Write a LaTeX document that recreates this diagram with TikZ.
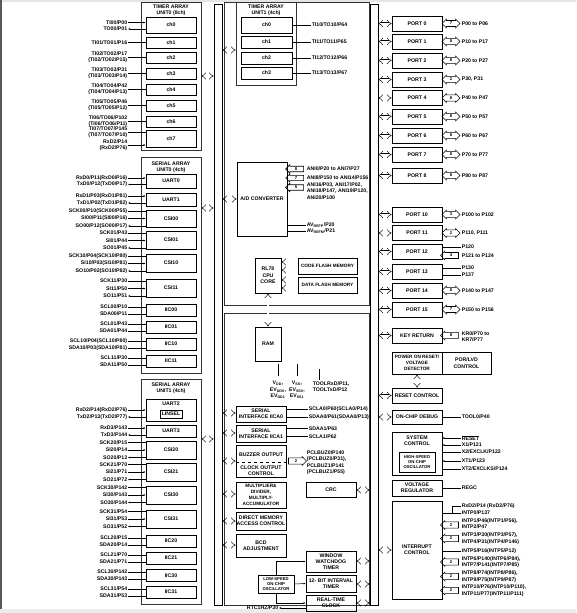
\documentclass[tikz,border=0pt]{standalone}
\usepackage{fontspec}
\setmainfont{Liberation Sans}
\usetikzlibrary{arrows.meta, shapes.arrows, calc}

\newcommand{\ptxt}{\fontsize{5.2}{6.3}\selectfont\bfseries}
\newcommand{\ptxtm}{\fontsize{4.7}{5.8}\selectfont\bfseries}
\newcommand{\ptxts}{\fontsize{4.2}{5.2}\selectfont\bfseries}

\tikzset{
  blk/.style={draw, line width=0.6pt, inner sep=0pt, minimum width=50pt},
  grp/.style={draw=black!80, line width=0.6pt, inner sep=0pt},
  busbar/.style={draw, line width=0.6pt, minimum width=8pt, inner sep=0pt},
  busarr/.style={double, double distance=2pt, line width=0.45pt, {Implies}-{Implies}},
  holarr/.style={double, double distance=2pt, line width=0.45pt, -{Implies}},
  lblr/.style={inner sep=0.6pt, align=right, anchor=east},
  lbll/.style={inner sep=0.6pt, align=left, anchor=west},
  wire/.style={line width=0.5pt},
  nbi/.style={double arrow, draw, line width=0.55pt, minimum height=18pt, minimum width=8.5pt,
    double arrow head extend=1.4pt, inner xsep=0.3pt, inner ysep=1.3pt, font=\ptxts},
  nin/.style={single arrow, shape border rotate=180, draw, line width=0.55pt, minimum height=18pt,
    minimum width=8.5pt, single arrow head extend=1.4pt, inner xsep=0.3pt, inner ysep=1.3pt, font=\ptxts},
  nout/.style={nin, shape border rotate=0}
}

% bus arrow between a bus and a block at height #4
\newcommand{\busto}[4]{\coordinate (#1) at (0,#4); \draw[busarr] (#2 |- #1) -- (#3 |- #1);}
% pin on the left of a block
\newcommand{\pinl}[5][]{\node[lblr] (#2) at (128,#3) {#4}; \draw[wire,#1] (#2.east) -- (#5.west |- #2.east);}
% pin on the right of a block
\newcommand{\pinr}[6][]{\node[lbll] (#2) at (#6,#3) {#4}; \draw[wire,#1] (#5.east |- #2.west) -- (#2.west);}
% port block with its pins
\newcommand{\port}[5]{\node[blk, minimum height=15pt] (#1) at (417,#2) {#3};
  \node[nbi] (#1a) at (451,#2) {#4}; \node[lbll] (#1p) at (461,#2) {#5};
  \busto{#1b}{bus2.east}{#1.west}{#2}}

\begin{document}
\begin{tikzpicture}[x=1pt, y=-1pt, >={Latex[length=2pt,width=1.8pt]},
  every node/.style={font=\ptxt, align=center}]
  \useasboundingbox (0,0) rectangle (576,613);

  % page edges
  \fill[black!65] (0,0) rectangle (2,609);
  \fill[black!10] (2,0) rectangle (576,1.5);
  \fill[black!8] (0,609) rectangle (576,613);

  % internal buses
  \node[busbar, minimum height=601pt] (bus1) at (218,304.5) {};
  \node[busbar, minimum height=601pt] (bus2) at (374,304.5) {};

  % ---------------- timer array unit 0
  \node[grp, minimum width=60pt, minimum height=148pt] (tau0) at (171,76) {};
  \node (tau0t) at (171,10.5) {TIMER ARRAY\\UNIT0 (8ch)};
  \node[blk, minimum height=16pt] (t0c0) at (171,25) {ch0};
  \node[blk, minimum height=11pt] (t0c1) at (171,42.5) {ch1};
  \node[blk, minimum height=11pt] (t0c2) at (171,57.5) {ch2};
  \node[blk, minimum height=11pt] (t0c3) at (171,73.5) {ch3};
  \node[blk, minimum height=11pt] (t0c4) at (171,89.5) {ch4};
  \node[blk, minimum height=11pt] (t0c5) at (171,105.5) {ch5};
  \node[blk, minimum height=11pt] (t0c6) at (171,121.5) {ch6};
  \node[blk, minimum height=17pt] (t0c7) at (171,138.5) {ch7};
  \pinl[->]{ti00}{22.5}{TI00/P00}{t0c0}
  \pinl[<-]{to00}{29}{TO00/P01}{t0c0}
  \pinl{ti01}{42.5}{TI01/TO01/P16}{t0c1}
  \pinl{ti02}{57.5}{TI02/TO02/P17\\(TI02/TO02/P15)}{t0c2}
  \pinl{ti03}{73.5}{TI03/TO03/P31\\(TI03/TO03/P14)}{t0c3}
  \pinl{ti04}{89.5}{TI04/TO04/P42\\(TI04/TO04/P13)}{t0c4}
  \pinl{ti05}{105.5}{TI05/TO05/P46\\(TI05/TO05/P12)}{t0c5}
  \pinl{ti06}{121}{TI06/TO06/P102\\(TI06/TO06/P11)}{t0c6}
  \pinl{ti07}{132.5}{TI07/TO07/P145\\(TI07/TO07/P10)}{t0c7}
  \pinl[->]{rxd2t}{145}{RxD2/P14\\(RxD2/P76)}{t0c7}
  \busto{a1}{tau0.east}{bus1.west}{76}

  % ---------------- serial array unit 0
  \node[grp, minimum width=60pt, minimum height=216pt] (sau0) at (171,265) {};
  \node (sau0t) at (171,167) {SERIAL ARRAY\\UNIT0 (4ch)};
  \node[blk, minimum height=14pt] (uart0) at (171,181) {UART0};
  \node[blk, minimum height=13pt] (uart1) at (171,199.5) {UART1};
  \node[blk, minimum height=17pt] (csi00) at (171,218.5) {CSI00};
  \node[blk, minimum height=18pt] (csi01) at (171,240) {CSI01};
  \node[blk, minimum height=18pt] (csi10) at (171,263) {CSI10};
  \node[blk, minimum height=18pt] (csi11) at (171,288) {CSI11};
  \node[blk, minimum height=12pt] (iic00) at (171,310) {IIC00};
  \node[blk, minimum height=12pt] (iic01) at (171,327) {IIC01};
  \node[blk, minimum height=12pt] (iic10) at (171,344) {IIC10};
  \node[blk, minimum height=12pt] (iic11) at (171,361) {IIC11};
  \pinl[->]{rxd0}{178}{RxD0/P11(RxD0/P16)}{uart0}
  \pinl[<-]{txd0}{184.5}{TxD0/P12(TxD0/P17)}{uart0}
  \pinl[->]{rxd1}{196}{RxD1/P03(RxD1/P81)}{uart1}
  \pinl[<-]{txd1}{203}{TxD1/P02(TxD1/P82)}{uart1}
  \pinl{sck00}{211}{SCK00/P10(SCK00/P55)}{csi00}
  \pinl[->]{si00}{218.5}{SI00/P11(SI00/P16)}{csi00}
  \pinl[<-]{so00}{226}{SO00/P12(SO00/P17)}{csi00}
  \pinl{sck01}{233}{SCK01/P43}{csi01}
  \pinl[->]{si01}{240.5}{SI01/P44}{csi01}
  \pinl[<-]{so01}{248}{SO01/P45}{csi01}
  \pinl{sck10}{256}{SCK10/P04(SCK10/P80)}{csi10}
  \pinl[->]{si10}{263.5}{SI10/P03(SI10/P81)}{csi10}
  \pinl[<-]{so10}{271}{SO10/P02(SO10/P82)}{csi10}
  \pinl{sck11}{281}{SCK11/P30}{csi11}
  \pinl[->]{si11}{288.5}{SI11/P50}{csi11}
  \pinl[<-]{so11}{296}{SO11/P51}{csi11}
  \pinl{scl00}{307}{SCL00/P10}{iic00}
  \pinl{sda00}{314}{SDA00/P11}{iic00}
  \pinl{scl01}{324}{SCL01/P43}{iic01}
  \pinl{sda01}{331}{SDA01/P44}{iic01}
  \pinl{scl10}{341}{SCL10/P04(SCL10/P80)}{iic10}
  \pinl{sda10}{348}{SDA10/P03(SDA10/P81)}{iic10}
  \pinl{scl11}{358}{SCL11/P30}{iic11}
  \pinl{sda11}{365}{SDA11/P50}{iic11}
  \busto{a2}{sau0.east}{bus1.west}{208}

  % ---------------- serial array unit 1
  \node[grp, minimum width=60pt, minimum height=225pt] (sau1) at (171,491.5) {};
  \node (sau1t) at (171,388) {SERIAL ARRAY\\UNIT1 (4ch)};
  \node[blk, minimum height=22pt] (uart2) at (171,410) {};
  \node (uart2t) at (171,404) {UART2};
  \node[blk, line width=0.8pt, minimum width=22pt, minimum height=8pt] (linsel) at (171,414) {LINSEL};
  \node[blk, minimum height=12pt] (uart3) at (171,431) {UART3};
  \node[blk, minimum height=18pt] (csi20) at (171,450) {CSI20};
  \node[blk, minimum height=18pt] (csi21) at (171,472) {CSI21};
  \node[blk, minimum height=18pt] (csi30) at (171,495) {CSI30};
  \node[blk, minimum height=18pt] (csi31) at (171,519) {CSI31};
  \node[blk, minimum height=12pt] (iic20) at (171,541) {IIC20};
  \node[blk, minimum height=12pt] (iic21) at (171,558) {IIC21};
  \node[blk, minimum height=12pt] (iic30) at (171,575.5) {IIC30};
  \node[blk, minimum height=12pt] (iic31) at (171,592) {IIC31};
  \pinl[->]{rxd2}{410}{RxD2/P14(RxD2/P76)}{uart2}
  \pinl[<-]{txd2}{417}{TxD2/P13(TxD2/P77)}{uart2}
  \pinl[->]{rxd3}{428}{RxD3/P143}{uart3}
  \pinl[<-]{txd3}{435}{TxD3/P144}{uart3}
  \pinl{sck20}{442.5}{SCK20/P15}{csi20}
  \pinl[->]{si20}{450}{SI20/P14}{csi20}
  \pinl[<-]{so20}{457.5}{SO20/P13}{csi20}
  \pinl{sck21}{464.5}{SCK21/P70}{csi21}
  \pinl[->]{si21}{472}{SI21/P71}{csi21}
  \pinl[<-]{so21}{479.5}{SO21/P72}{csi21}
  \pinl{sck30}{487.5}{SCK30/P142}{csi30}
  \pinl[->]{si30}{495}{SI30/P143}{csi30}
  \pinl[<-]{so30}{502.5}{SO30/P144}{csi30}
  \pinl{sck31}{511.5}{SCK31/P54}{csi31}
  \pinl[->]{si31}{519}{SI31/P53}{csi31}
  \pinl[<-]{so31}{526.5}{SO31/P52}{csi31}
  \pinl{scl20}{538}{SCL20/P15}{iic20}
  \pinl{sda20}{545}{SDA20/P14}{iic20}
  \pinl{scl21}{555}{SCL21/P70}{iic21}
  \pinl{sda21}{562}{SDA21/P71}{iic21}
  \pinl{scl30}{572}{SCL30/P142}{iic30}
  \pinl{sda30}{579}{SDA30/P143}{iic30}
  \pinl{scl31}{589}{SCL31/P54}{iic31}
  \pinl{sda31}{596}{SDA31/P53}{iic31}
  \busto{a3}{sau1.east}{bus1.west}{439}

  % ---------------- middle, upper panel
  \node[grp, minimum width=145pt, minimum height=303pt] (mid1) at (296.5,153.5) {};
  \node[grp, minimum width=60pt, minimum height=83pt] (tau1) at (266,43.5) {};
  \node (tau1t) at (266,10.5) {TIMER ARRAY\\UNIT1 (4ch)};
  \node[blk, minimum width=51pt, minimum height=16pt] (t1c0) at (266.5,25) {ch0};
  \node[blk, minimum width=51pt, minimum height=12pt] (t1c1) at (266.5,42) {ch1};
  \node[blk, minimum width=51pt, minimum height=12pt] (t1c2) at (266.5,58) {ch2};
  \node[blk, minimum width=51pt, minimum height=12pt] (t1c3) at (266.5,73) {ch3};
  \pinr{ti10}{25}{TI10/TO10/P64}{t1c0}{311}
  \pinr{ti11}{42}{TI11/TO11/P65}{t1c1}{311}
  \pinr{ti12}{58}{TI12/TO12/P66}{t1c2}{311}
  \pinr{ti13}{73}{TI13/TO13/P67}{t1c3}{311}
  \busto{a4}{bus1.east}{tau1.west}{50}

  % A/D converter
  \node[blk, minimum height=74pt] (adc) at (262,199) {A/D CONVERTER};
  \node[nin, minimum width=7.5pt, inner ysep=1pt] (an0a) at (296,169) {8};
  \node[lbll] (an0) at (306,169) {ANI0/P20 to ANI7/P27};
  \node[nin, minimum width=7.5pt, inner ysep=1pt] (an1a) at (296,178) {7};
  \node[lbll] (an1) at (306,177.5) {ANI8/P150 to ANI14/P156};
  \node[nin, minimum width=7.5pt, inner ysep=1pt] (an2a) at (296,187.5) {5};
  \node[lbll] (an2) at (306,191) {ANI16/P03, ANI17/P02,\\ANI18/P147, ANI19/P120,\\ANI20/P100};
  \pinr{avp}{225}{AV\textsubscript{REFP}/P20}{adc}{306}
  \pinr{avm}{231}{AV\textsubscript{REFM}/P21}{adc}{306}
  \busto{a5}{bus1.east}{adc.west}{199}

  % CPU and flash
  \node[blk, minimum width=26pt, minimum height=35pt] (cpu) at (268,275.5) {RL78\\CPU\\CORE};
  \node[blk, minimum width=59pt, minimum height=16pt, font=\ptxtm] (cfl) at (327.5,266) {CODE FLASH MEMORY};
  \node[blk, minimum width=59pt, minimum height=16pt, font=\ptxtm] (dfl) at (327.5,285) {DATA FLASH MEMORY};
  \coordinate (f1) at (0,262); \coordinate (f2) at (0,270);
  \coordinate (f3) at (0,280); \coordinate (f4) at (0,288);
  \draw[holarr] (cfl.west |- f1) -- (cpu.east |- f1);
  \draw[holarr] (cfl.west |- f2) -- (cpu.east |- f2);
  \draw[holarr] (dfl.west |- f3) -- (cpu.east |- f3);
  \draw[holarr] (dfl.west |- f4) -- (cpu.east |- f4);

  % ---------------- middle, lower panel
  \node[grp, minimum width=145pt, minimum height=292pt] (mid2) at (296.5,459) {};
  \node[blk, minimum width=26pt, minimum height=34pt] (ram) at (268,344) {RAM};
  \draw[busarr] (cpu.south) -- (ram.north);

  % supply and tool pins
  \node (vdd) at (278,390) {V\textsubscript{DD},\\EV\textsubscript{DD0},\\EV\textsubscript{DD1}};
  \node (vss) at (297,390) {V\textsubscript{SS},\\EV\textsubscript{SS0},\\EV\textsubscript{SS1}};
  \node[lbll] (tool) at (312,387) {TOOLRxD/P11,\\TOOLTxD/P12};
  \draw[wire] ([yshift=1.5pt]vdd.north) -- ++(0,-12);
  \draw[wire] ([yshift=1.5pt]vss.north) -- ++(0,-12);
  \draw[wire] ([shift={(7pt,1.5pt)}]tool.north west) -- ++(0,-11);

  % serial interfaces IICA
  \node[blk, minimum height=16pt] (iica0) at (261,414) {SERIAL\\INTERFACE IICA0};
  \node[blk, minimum height=17pt] (iica1) at (261,433.5) {SERIAL\\INTERFACE IICA1};
  \pinr{scla0}{409.5}{SCLA0/P60(SCLA0/P14)}{iica0}{308}
  \pinr{sdaa0}{417.5}{SDAA0/P61(SDAA0/P13)}{iica0}{308}
  \pinr{sdaa1}{428.5}{SDAA1/P63}{iica1}{308}
  \pinr{scla1}{436.5}{SCLA1/P62}{iica1}{308}
  \busto{a6}{bus1.east}{iica0.west}{413}
  \busto{a7}{bus1.east}{iica1.west}{433}

  % buzzer / clock output
  \node[blk, minimum height=32pt] (buz) at (261,461) {};
  \node (buzt) at (261,454.5) {BUZZER OUTPUT};
  \node (clkt) at (261,470.5) {CLOCK OUTPUT\\CONTROL};
  \draw[wire, dashed] ([yshift=-1pt]buz.west) -- ([yshift=-1pt]buz.east);
  \node[nout] (buza) at (296,461) {2};
  \node[lbll] (pclbuz) at (306,462.5) {PCLBUZ0/P140\\(PCLBUZ0/P31),\\PCLBUZ1/P141\\(PCLBUZ1/P55)};
  \busto{a8}{bus1.east}{buz.west}{461}

  % arithmetic, DMA, BCD
  \node[blk, minimum height=26pt, font=\ptxtm] (mda) at (261,495) {MULTIPLIER\&\\DIVIDER,\\MULTIPLY-\\ACCUMULATOR};
  \node[blk, minimum height=18pt] (dma) at (261,521) {DIRECT MEMORY\\ACCESS CONTROL};
  \node[blk, minimum height=23pt] (bcd) at (261,545.5) {BCD\\ADJUSTMENT};
  \busto{a9}{bus1.east}{mda.west}{494}
  \busto{a10}{bus1.east}{dma.west}{521}
  \busto{a11}{bus1.east}{bcd.west}{545}

  % CRC and timers
  \node[blk, minimum height=15pt] (crc) at (331,489.5) {CRC};
  \node[blk, minimum height=21pt] (wdt) at (331,561.5) {WINDOW\\WATCHDOG\\TIMER};
  \node[blk, minimum height=17pt] (itv) at (331,583.5) {12- BIT INTERVAL\\TIMER};
  \node[blk, minimum height=16pt] (rtc) at (331,603) {REAL-TIME\\CLOCK};
  \busto{a12}{crc.east}{bus2.west}{490}
  \busto{a13}{wdt.east}{bus2.west}{561}
  \busto{a14}{itv.east}{bus2.west}{584}
  \busto{a15}{rtc.east}{bus2.west}{603}
  \node[blk, minimum width=36pt, minimum height=18pt, font=\ptxts] (osc) at (276,584) {LOW-SPEED\\ON-CHIP\\OSCILLATOR};
  \draw[wire, ->] (osc.north) |- (wdt.west);
  \draw[wire, ->] (osc.east) -- (itv.west);
  \draw[wire, ->] (osc.south) |- (rtc.west);
  \node[lblr] (rtchz) at (279,608) {RTC1HZ/P30};
  \draw[wire, ->] (rtc.west |- rtchz.east) -- (rtchz.east);

  % ---------------- right column: ports
  \port{port0}{23.5}{PORT 0}{7}{P00 to P06}
  \port{port1}{41.5}{PORT 1}{8}{P10 to P17}
  \port{port2}{60.5}{PORT 2}{8}{P20 to P27}
  \port{port3}{79.5}{PORT 3}{2}{P30, P31}
  \port{port4}{98}{PORT 4}{8}{P40 to P47}
  \port{port5}{116.5}{PORT 5}{8}{P50 to P57}
  \port{port6}{135.5}{PORT 6}{8}{P60 to P67}
  \port{port7}{154.5}{PORT 7}{8}{P70 to P77}
  \port{port8}{175.5}{PORT 8}{8}{P80 to P87}
  \port{port10}{214.5}{PORT 10}{3}{P100 to P102}
  \port{port11}{233}{PORT 11}{2}{P110, P111}
  \node[blk, minimum height=15pt] (port12) at (417,251.5) {PORT 12};
  \pinr{p120}{247}{P120}{port12}{461}
  \node[nin] (port12a) at (451,255.5) {4};
  \node[lbll] (port12p) at (461,255.5) {P121 to P124};
  \busto{port12b}{bus2.east}{port12.west}{251.5}
  \node[blk, minimum height=15pt] (port13) at (417,271.5) {PORT 13};
  \pinr{p130}{268}{P130}{port13}{461}
  \pinr{p137}{275}{P137}{port13}{461}
  \busto{port13b}{bus2.east}{port13.west}{271.5}
  \port{port14}{290.5}{PORT 14}{8}{P140 to P147}
  \port{port15}{309.5}{PORT 15}{7}{P150 to P156}

  % key return
  \node[blk, minimum height=15pt] (kr) at (417,335.5) {KEY RETURN};
  \node[nin] (kra) at (451,335.5) {8};
  \node[lbll] (krp) at (461,337) {KR0/P70 to\\KR7/P77};
  \busto{krb}{bus2.east}{kr.west}{335.5}

  % reset
  \node[blk, minimum height=22pt, font=\ptxtm] (por) at (417,363) {POWER ON RESET/\\VOLTAGE\\DETECTOR};
  \node[blk, minimum width=49pt, minimum height=22pt] (porc) at (466.5,363) {POR/LVD\\CONTROL};
  \node[blk, minimum height=15pt] (rst) at (417,395.5) {RESET CONTROL};
  \draw[busarr] (por.south) -- (rst.north);
  \busto{rstb}{bus2.east}{rst.west}{395.5}

  % debug
  \node[blk, minimum height=14pt] (dbg) at (417,417) {ON-CHIP DEBUG};
  \pinr{tool0}{417}{TOOL0/P40}{dbg}{461}
  \busto{dbgb}{bus2.east}{dbg.west}{417}

  % system control
  \node[blk, minimum height=43pt] (sys) at (417,453.5) {};
  \node (syst) at (417,440.5) {SYSTEM\\CONTROL};
  \node[blk, line width=0.8pt, minimum width=36pt, minimum height=20pt, font=\ptxts] (hoco) at (417,462) {HIGH-SPEED\\ON-CHIP\\OSCILLATOR};
  \pinr[<-]{rstp}{438}{$\overline{\mbox{RESET}}$}{sys}{461}
  \pinr[<-]{x1}{445}{X1/P121}{sys}{461}
  \pinr{x2}{452}{X2/EXCLK/P122}{sys}{461}
  \pinr[<-]{xt1}{461}{XT1/P123}{sys}{461}
  \pinr{xt2}{469}{XT2/EXCLKS/P124}{sys}{461}

  % regulator
  \node[blk, minimum height=16pt] (reg) at (417,488) {VOLTAGE\\REGULATOR};
  \pinr{regc}{488}{REGC}{reg}{461}

  % interrupt control
  \node[blk, minimum height=98pt] (intc) at (417,550) {INTERRUPT\\CONTROL};
  \busto{intb}{bus2.east}{intc.west}{550}
  \node[lbll] (int0) at (461,506) {RxD2/P14 (RxD2/P76)};
  \node[lbll] (int0b) at (461,513) {INTP0/P137};
  \coordinate (j0) at (452,513);
  \draw[wire] (intc.east |- int0b.west) -- (int0b.west);
  \draw[wire] (j0) |- (int0.west);
  \node[nin] (int1a) at (451,525) {2};
  \node[lbll] (int1) at (461,523.5) {INTP1/P46(INTP1/P56),\\INTP2/P47};
  \node[nin] (int3a) at (451,538.5) {2};
  \node[lbll] (int3) at (461,538.5) {INTP3/P30(INTP3/P57),\\INTP4/P31(INTP4/P146)};
  \pinr{int5}{551}{INTP5/P16(INTP5/P12)}{intc}{461}
  \node[nin] (int6a) at (451,562) {2};
  \node[lbll] (int6) at (461,562) {INTP6/P140(INTP6/P84),\\INTP7/P141(INTP7/P85)};
  \node[nin] (int8a) at (451,576.5) {2};
  \node[lbll] (int8) at (461,576.5) {INTP8/P74(INTP8/P86),\\INTP9/P75(INTP9/P87)};
  \node[nin] (int10a) at (451,590.5) {2};
  \node[lbll] (int10) at (461,590.5) {INTP10/P76(INTP10/P110),\\INTP11/P77(INTP11/P111)};
\end{tikzpicture}
\end{document}
